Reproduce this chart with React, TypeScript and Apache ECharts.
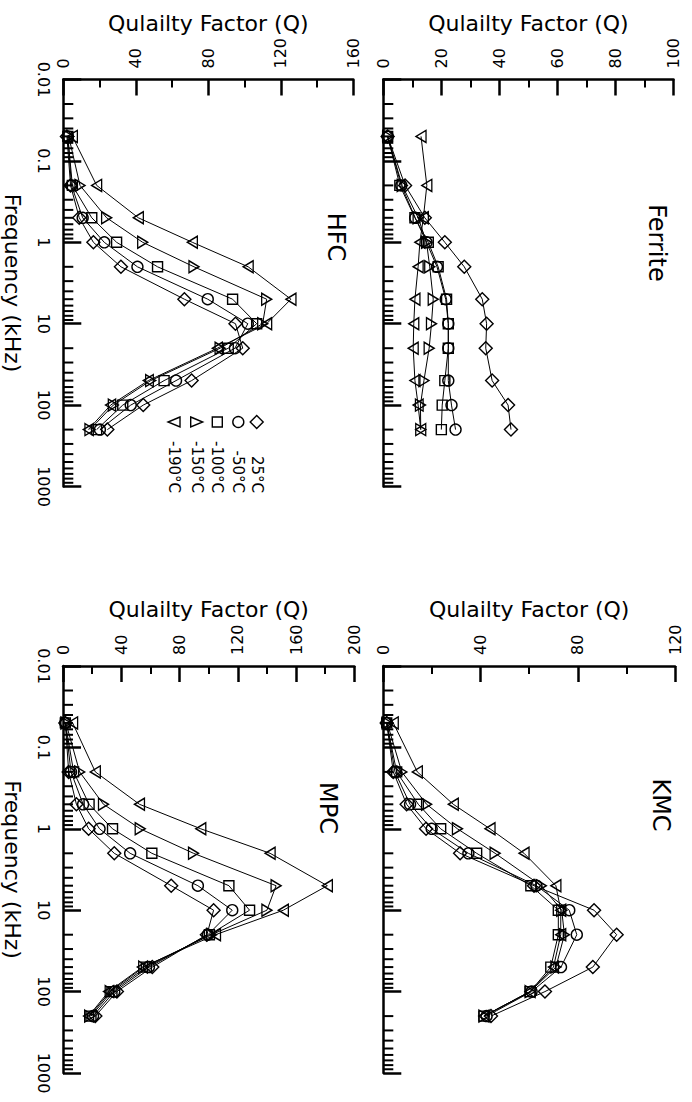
import React, { useEffect, useRef } from 'react';
import * as echarts from 'echarts';

// ---------- data ----------
const FREQUENCIES = [0.05, 0.2, 0.5, 1, 2, 5, 10, 20, 50, 100, 200]; // kHz
const TEMPERATURES = ['25°C', '-50°C', '-100°C', '-150°C', '-190°C'];
const FREQ_TICK_LABELS = ['0.01', '0.1', '1', '10', '100', '1000'];
const LOG_DECADES = [0.01, 0.1, 1, 10, 100];
const LOG_MINOR_MULTIPLIERS = [2, 3, 4, 5, 6, 7, 8, 9];

const FERRITE_25 = [1.5, 7.5, 14.3, 21.2, 27.9, 34.1, 35.6, 35.3, 37.5, 43, 44];
const FERRITE_M50 = [1.5, 6.2, 11, 14.9, 18.5, 21.5, 22.4, 22.4, 22.4, 23.5, 24.9];
const FERRITE_M100 = [1.5, 5.7, 10.9, 15.5, 18.9, 21.8, 22.4, 22.4, 21.2, 20.3, 20];
const FERRITE_M150 = [1.5, 6.5, 12, 14.9, 16, 17.2, 16.6, 15.8, 14, 12.8, 12.9];
const FERRITE_M190 = [13, 15, 13.8, 12.6, 12, 10.9, 10.5, 10.3, 10.9, 12, 12.9];

const HFC_25 = [2, 4, 8.8, 16.6, 31.8, 66.8, 95, 99, 70.8, 44.1, 24.3];
const HFC_M50 = [2.5, 4.5, 10.7, 22.6, 40.9, 79.7, 101.8, 94.7, 62.2, 37.2, 20.2];
const HFC_M100 = [2.5, 5, 15.7, 29.4, 52, 93.4, 106.7, 91, 55.6, 32.8, 18.4];
const HFC_M150 = [3, 9.2, 23.9, 43.8, 72.1, 112.2, 110, 86.5, 48.2, 27.6, 14.7];
const HFC_M190 = [5, 18.4, 41.4, 71.2, 102, 125.6, 112.2, 85, 46.9, 26.1, 13.8];

const KMC_25 = [1.4, 4.1, 9.6, 17.6, 31.6, 62, 86.7, 96, 86.2, 66.5, 44.3];
const KMC_M50 = [1.4, 4.8, 11, 19.9, 35, 63, 76.5, 79.6, 73.1, 61, 42.5];
const KMC_M100 = [1.4, 5.5, 14.4, 23.6, 38.4, 60.7, 72, 72, 68.9, 60.4, 41.4];
const KMC_M150 = [1.6, 7.6, 17.8, 30.5, 46, 65, 73.4, 74.5, 71, 60.4, 41.4];
const KMC_M190 = [4.1, 14, 28.8, 43.9, 57.9, 71, 73, 73, 70, 60.4, 41.4];

const MPC_25 = [1.6, 3.9, 9.2, 17.6, 35.2, 74.3, 103.4, 98.8, 61.3, 37, 22.2];
const MPC_M50 = [1.6, 5.5, 13.8, 25.1, 46.1, 92.6, 116.2, 99.5, 59, 35.2, 20.6];
const MPC_M100 = [1.6, 7.3, 17.9, 34, 61, 113.9, 128.1, 100.5, 57.2, 33.6, 19.2];
const MPC_M150 = [2, 11.4, 27.8, 53, 89.6, 146.3, 140, 102, 55.4, 32.4, 18.3];
const MPC_M190 = [6.6, 22.2, 52.5, 94.6, 142.2, 181.5, 151.3, 104.7, 54.5, 31.3, 17.6];

// ---------- layout ----------
const FONT = 'DejaVu Sans';

const PANELS = [
  {
    title: 'HFC', qMax: 160, qInterval: 40, series: [HFC_25, HFC_M50, HFC_M100, HFC_M150, HFC_M190],
    left: 63.3, top: 79.5, width: 290, height: 407, showFreq: true, titleX: 336, titleY: 237,
  },
  {
    title: 'Ferrite', qMax: 100, qInterval: 20, series: [FERRITE_25, FERRITE_M50, FERRITE_M100, FERRITE_M150, FERRITE_M190],
    left: 383.3, top: 79.5, width: 290.2, height: 407, showFreq: false, titleX: 657, titleY: 243,
  },
  {
    title: 'MPC', qMax: 200, qInterval: 40, series: [MPC_25, MPC_M50, MPC_M100, MPC_M150, MPC_M190],
    left: 62.7, top: 666, width: 291.6, height: 407, showFreq: true, titleX: 328, titleY: 808,
  },
  {
    title: 'KMC', qMax: 120, qInterval: 40, series: [KMC_25, KMC_M50, KMC_M100, KMC_M150, KMC_M190],
    left: 383.3, top: 666, width: 291.7, height: 407, showFreq: false, titleX: 661, titleY: 805,
  },
];

const SYMBOLS = ['diamond', 'circle', 'rect', 'path://M0,0L10,6L0,12Z', 'path://M10,0L0,6L10,12Z'];
const SYMBOL_SIZES: any[] = [13, 11, 10, [10, 12], [10, 12]];

function buildOption() {
  const minorTickValues: number[] = [];
  LOG_DECADES.forEach((d) => LOG_MINOR_MULTIPLIERS.forEach((m) => minorTickValues.push(d * m)));

  const series: any[] = [];
  PANELS.forEach((p, g) => {
    p.series.forEach((vals, k) => {
      series.push({
        type: 'line',
        name: TEMPERATURES[k],
        xAxisIndex: g,
        yAxisIndex: g,
        data: FREQUENCIES.map((f, i) => [vals[i], f]),
        symbol: SYMBOLS[k],
        symbolSize: SYMBOL_SIZES[k],
        showAllSymbol: true,
        clip: false,
        lineStyle: { color: '#000', width: 1 },
        itemStyle: { color: 'transparent', borderColor: '#000', borderWidth: 1.4 },
        emphasis: { disabled: true },
        silent: true,
        z: 2,
      });
    });
    series.push({
      type: 'custom',
      xAxisIndex: g,
      yAxisIndex: g,
      silent: true,
      clip: false,
      z: 3,
      data: minorTickValues.map((v) => [0, v]),
      renderItem: (params: any, api: any) => {
        const pt = api.coord([api.value(0), api.value(1)]);
        return {
          type: 'line',
          shape: { x1: pt[0], y1: pt[1], x2: pt[0] + 10, y2: pt[1] },
          style: { stroke: '#000', lineWidth: 2 },
        };
      },
    });
  });

  const graphic: any[] = [];
  PANELS.forEach((p) => {
    graphic.push({
      type: 'text',
      x: p.titleX,
      y: p.titleY,
      rotation: -Math.PI / 2,
      style: {
        text: p.title, fontSize: 24, fontFamily: FONT, fill: '#000',
        align: 'center', verticalAlign: 'middle', textAlign: 'center', textVerticalAlign: 'middle',
      },
    });
  });

  // legend (HFC panel)
  const legendX = [256.7, 238.3, 217.3, 196.7, 174];
  const symY = 422;
  const ls = { fill: 'none', stroke: '#000', lineWidth: 1.4 };
  graphic.push({ type: 'polygon', shape: { points: [[legendX[0], symY - 6.5], [legendX[0] + 6.5, symY], [legendX[0], symY + 6.5], [legendX[0] - 6.5, symY]] }, style: ls });
  graphic.push({ type: 'circle', shape: { cx: legendX[1], cy: symY, r: 5.5 }, style: ls });
  graphic.push({ type: 'rect', shape: { x: legendX[2] - 5, y: symY - 5, width: 10, height: 10 }, style: ls });
  graphic.push({ type: 'polygon', shape: { points: [[legendX[3] - 6, symY - 5], [legendX[3] + 6, symY], [legendX[3] - 6, symY + 5]] }, style: ls });
  graphic.push({ type: 'polygon', shape: { points: [[legendX[4] + 6, symY - 5], [legendX[4] - 6, symY], [legendX[4] + 6, symY + 5]] }, style: ls });
  TEMPERATURES.forEach((t, k) => {
    graphic.push({
      type: 'text',
      x: legendX[k],
      y: 493,
      rotation: -Math.PI / 2,
      style: {
        text: t, fontSize: 15, fontFamily: FONT, fill: '#000',
        align: 'right', verticalAlign: 'middle', textAlign: 'right', textVerticalAlign: 'middle',
      },
    });
  });

  return {
    animation: false,
    backgroundColor: '#fff',
    textStyle: { fontFamily: FONT, color: '#000' },
    grid: PANELS.map((p) => ({ left: p.left, top: p.top, width: p.width, height: p.height, containLabel: false })),
    xAxis: PANELS.map((p, i) => ({
      type: 'value',
      gridIndex: i,
      position: 'top',
      min: 0,
      max: p.qMax,
      interval: p.qInterval,
      name: 'Qulailty Factor (Q)',
      nameLocation: 'middle',
      nameGap: 45,
      nameTextStyle: { fontSize: 22, color: '#000', fontFamily: FONT },
      axisLine: { show: true, onZero: false, lineStyle: { color: '#000', width: 2.5 } },
      axisTick: { show: true, inside: true, length: 16, lineStyle: { color: '#000', width: 2.5 } },
      minorTick: { show: true, splitNumber: 2, length: 8, lineStyle: { color: '#000', width: 2 } },
      axisLabel: { rotate: -90, margin: 11, fontSize: 16, color: '#000', fontFamily: FONT },
      splitLine: { show: false },
      minorSplitLine: { show: false },
    })),
    yAxis: PANELS.map((p, i) => ({
      type: 'log',
      logBase: 10,
      gridIndex: i,
      inverse: true,
      min: 0.01,
      max: 1000,
      position: 'left',
      name: p.showFreq ? 'Frequency (kHz)' : '',
      nameLocation: 'middle',
      nameGap: 40,
      nameRotate: -90,
      nameTextStyle: { fontSize: 22, color: '#000', fontFamily: FONT },
      axisLine: { show: true, onZero: false, lineStyle: { color: '#000', width: 2.5 } },
      axisTick: { show: true, inside: true, length: 18, lineStyle: { color: '#000', width: 2.5 } },
      axisLabel: {
        show: p.showFreq,
        rotate: -90,
        margin: 12,
        fontSize: 16,
        color: '#000',
        fontFamily: FONT,
        formatter: (v: number) => FREQ_TICK_LABELS[Math.round(Math.log10(v)) + 2] ?? '',
      },
      splitLine: { show: false },
    })),
    series,
    graphic,
  };
}

export default function App() {
  const ref = useRef<HTMLDivElement>(null);
  useEffect(() => {
    if (!ref.current) return;
    const chart = echarts.init(ref.current, undefined, { renderer: 'svg' });
    chart.setOption(buildOption() as any);
    return () => chart.dispose();
  }, []);
  return (
    <div
      ref={ref}
      style={{ position: 'absolute', left: 0, top: 0, width: 692, height: 1102, background: '#fff' }}
    />
  );
}
